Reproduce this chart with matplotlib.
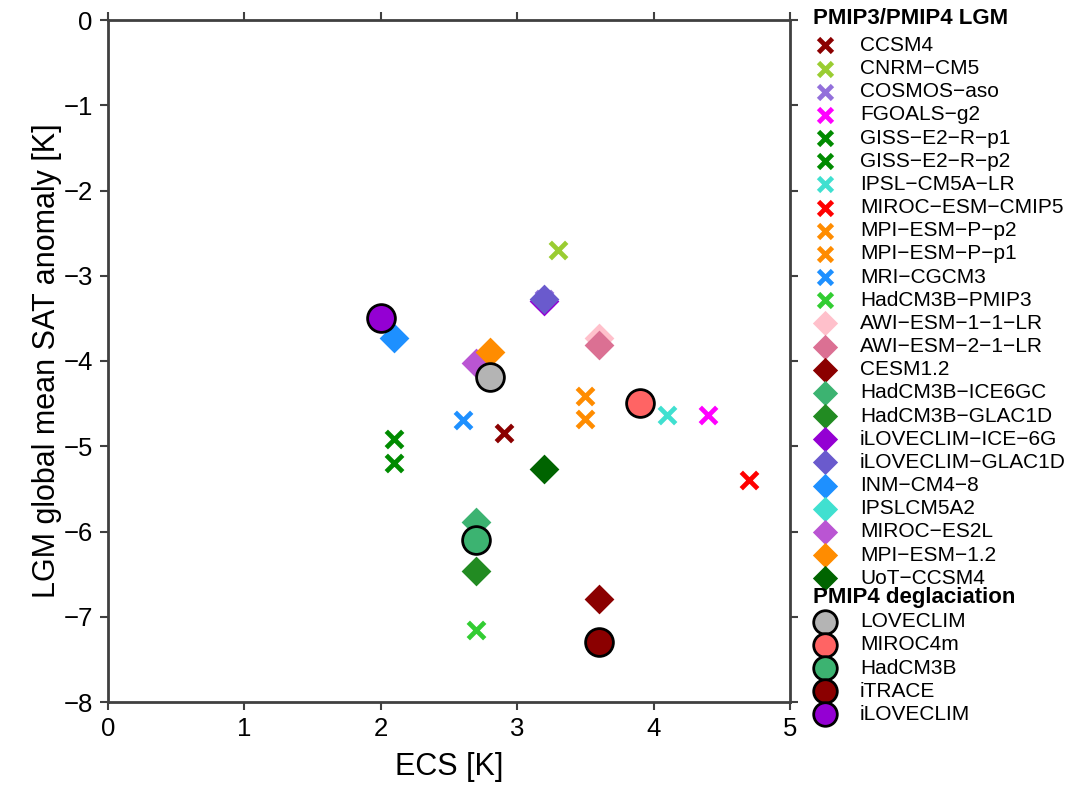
import numpy as np
import matplotlib
matplotlib.use("Agg")
import matplotlib.pyplot as plt

plt.rcParams['font.family'] = ['Liberation Sans', 'DejaVu Sans']

# PMIP3 LGM (crosses)
pmip3_names = ['CCSM4', 'CNRM\u2212CM5', 'COSMOS\u2212aso', 'FGOALS\u2212g2', 'GISS\u2212E2\u2212R\u2212p1',
               'GISS\u2212E2\u2212R\u2212p2', 'IPSL\u2212CM5A\u2212LR', 'MIROC\u2212ESM\u2212CMIP5',
               'MPI\u2212ESM\u2212P\u2212p2', 'MPI\u2212ESM\u2212P\u2212p1', 'MRI\u2212CGCM3', 'HadCM3B\u2212PMIP3']
pmip3_ecs = [2.9, 3.3, 3.2, 4.4, 2.1, 2.1, 4.1, 4.7, 3.5, 3.5, 2.6, 2.7]
pmip3_sat = [-4.84, -2.7, -3.27, -4.63, -4.91, -5.2, -4.63, -5.4, -4.41, -4.68, -4.69, -7.16]
pmip3_cols = ['#8b0000', '#9acd32', '#9370db', '#ff00ff', '#008b00', '#008b00', '#40e0d0',
              '#ff0000', '#ff8c00', '#ff8c00', '#1e90ff', '#32cd32']

# PMIP4 LGM (diamonds)
pmip4_names = ['AWI\u2212ESM\u22121\u22121\u2212LR', 'AWI\u2212ESM\u22122\u22121\u2212LR', 'CESM1.2',
               'HadCM3B\u2212ICE6GC', 'HadCM3B\u2212GLAC1D', 'iLOVECLIM\u2212ICE\u22126G',
               'iLOVECLIM\u2212GLAC1D', 'INM\u2212CM4\u22128', 'IPSLCM5A2', 'MIROC\u2212ES2L',
               'MPI\u2212ESM\u22121.2', 'UoT\u2212CCSM4']
pmip4_ecs = [3.6, 3.6, 3.6, 2.7, 2.7, 3.2, 3.2, 2.1, 3.9, 2.7, 2.8, 3.2]
pmip4_sat = [-3.73, -3.81, -6.79, -5.89, -6.46, -3.3, -3.27, -3.73, -4.49, -4.02, -3.9, -5.27]
pmip4_cols = ['#ffc0cb', '#db7093', '#8b0000', '#3cb371', '#228b22', '#9400d3',
              '#6a5acd', '#1e90ff', '#40e0d0', '#ba55d3', '#ff8c00', '#006400']

# PMIP4 deglaciation (circles)
deg_names = ['LOVECLIM', 'MIROC4m', 'HadCM3B', 'iTRACE', 'iLOVECLIM']
deg_ecs = [2.8, 3.9, 2.7, 3.6, 2.0]
deg_sat = [-4.19, -4.49, -6.1, -7.3, -3.5]
deg_cols = ['#b4b4b4', '#ff6464', '#3cb371', '#8b0000', '#9400d3']

fig = plt.figure(figsize=(10.83, 7.87), dpi=100)
ax = fig.add_axes([108 / 1083, 1 - 702 / 787, 682 / 1083, 682 / 787])

h1 = []
for n, x, y, c in zip(pmip3_names, pmip3_ecs, pmip3_sat, pmip3_cols):
    h1.append(ax.scatter(x, y, marker='x', s=140, c=c, linewidths=3.4, label=n, zorder=3))
for n, x, y, c in zip(pmip4_names, pmip4_ecs, pmip4_sat, pmip4_cols):
    h1.append(ax.scatter(x, y, marker='D', s=230, c=c, linewidths=0, label=n, zorder=3))
h2 = []
for n, x, y, c in zip(deg_names, deg_ecs, deg_sat, deg_cols):
    h2.append(ax.scatter(x, y, marker='o', s=400, c=c, edgecolors='black', linewidths=2,
                         label=n, zorder=4))

ax.set_xlim(0, 5)
ax.set_ylim(-8, 0)
ax.set_xticks(np.arange(0, 6, 1))
ax.set_yticks(np.arange(-8, 1, 1))
ax.tick_params(direction='out', length=6, width=1.5, labelsize=18.5, color='#404040',
               top=True, right=True, pad=5)
for s in ax.spines.values():
    s.set_linewidth(2)
    s.set_color('#404040')
ax.set_xlabel('ECS [K]', fontsize=22, labelpad=8)
ax.set_ylabel('LGM global mean SAT anomaly [K]', fontsize=22, labelpad=1)

leg_kw = dict(frameon=False, fontsize=15, alignment='left', handletextpad=1.1,
              labelspacing=0.2, borderpad=0, borderaxespad=0, handlelength=1.15,
              title_fontproperties={'weight': 'bold', 'size': 16},
              bbox_transform=fig.transFigure, loc='upper left')
leg1 = ax.legend(handles=h1, title='PMIP3/PMIP4 LGM',
                 bbox_to_anchor=(813 / 1083, 1 - 8 / 787), **leg_kw)
ax.add_artist(leg1)
leg2 = ax.legend(handles=h2, title='PMIP4 deglaciation',
                 bbox_to_anchor=(813 / 1083, 1 - 587 / 787), **leg_kw)
leg1._legend_box.sep = 5
leg2._legend_box.sep = 3
for lg in (leg1, leg2):
    for hd in lg.legend_handles:
        hd.set_sizes([hd.get_sizes()[0] * 0.72])

fig.savefig('out.png', dpi=100)
